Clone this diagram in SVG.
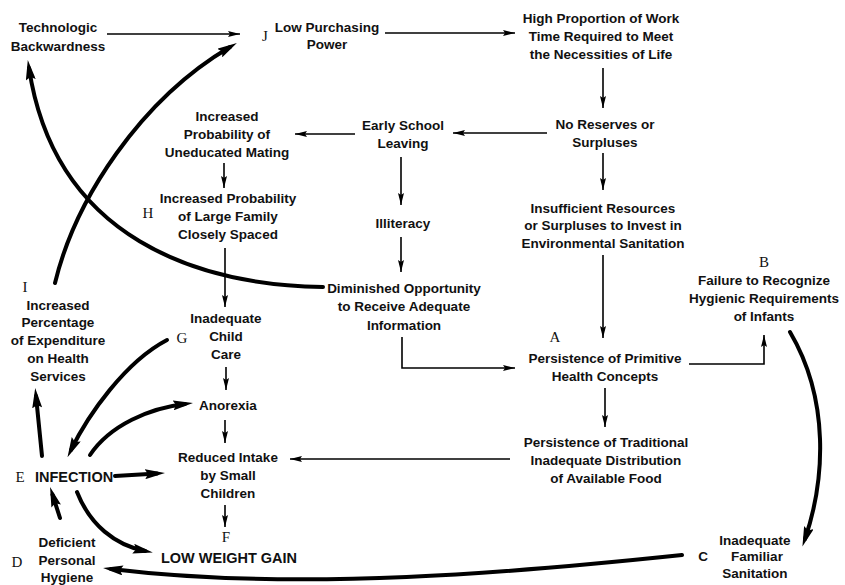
<svg xmlns="http://www.w3.org/2000/svg" width="845" height="585" viewBox="0 0 845 585">
<style>
.t{font-family:"Liberation Sans",Arial,sans-serif;font-weight:bold;font-size:13.5px;text-anchor:middle;fill:#111}
.big{font-size:14.5px}
.lbl{font-family:"Liberation Serif","Times New Roman",serif;font-size:15px;text-anchor:middle;fill:#111}
.thin{stroke:#000;stroke-width:1.6;fill:none;marker-end:url(#ah)}
.thick{stroke:#000;stroke-width:4;fill:none;stroke-linecap:round;marker-end:url(#ahb)}
</style>
<defs>
<marker id="ah" markerUnits="userSpaceOnUse" viewBox="0 0 12 6" markerWidth="12" markerHeight="6" refX="12" refY="3" orient="auto"><path d="M0,0 L12,3 L0,6 L2,3 z" fill="#000"/></marker>
<marker id="ahb" markerUnits="userSpaceOnUse" viewBox="0 0 20 10" markerWidth="20" markerHeight="10" refX="12" refY="5" orient="auto"><path d="M0,0 L20,5 L0,10 L3,5 z" fill="#000"/></marker>
</defs>
<rect width="845" height="585" fill="#fff"/>

<g id="connectors">
<path class="thin" d="M107,34 H240"/>
<path class="thin" d="M385,33 H515"/>
<path class="thin" d="M603,68 V108"/>
<path class="thin" d="M547,133 H453"/>
<path class="thin" d="M355,134 H295"/>
<path class="thin" d="M224,163 V188"/>
<path class="thin" d="M401,157 V205"/>
<path class="thin" d="M401,237 V272"/>
<path class="thin" d="M603,153 V190"/>
<path class="thin" d="M603,255 V338"/>
<path class="thin" d="M402,337 V368 H515"/>
<path class="thin" d="M689,364 H764 V335"/>
<path class="thin" d="M605,388 V427"/>
<path class="thin" d="M510,459 H290"/>
<path class="thin" d="M225,248 V307"/>
<path class="thin" d="M226,367 V390"/>
<path class="thin" d="M225,420 V443"/>
<path class="thin" d="M225,505 V527"/>

<path class="thick" d="M55,283 C75,200 140,100 230,47"/>
<path class="thick" d="M323,287 C200,285 55,240 29,68"/>
<path class="thick" d="M790,332 C830,400 825,480 805,539"/>
<path class="thick" d="M682,555 C520,572 300,592 111,569"/>
<path class="thick" d="M42,456 L36,396"/>
<path class="thick" d="M167,340 C125,362 88,415 71,450"/>
<path class="thick" d="M90,455 C110,425 150,408 185,404"/>
<path class="thick" d="M115,476 L157,473.5"/>
<path class="thick" d="M60,518 L52.5,494.6"/>
<path class="thick" d="M77,492 C90,525 115,545 145,551"/>
</g>

<g id="technologic"><text class="t" x="58" y="32">Technologic</text><text class="t" x="58" y="51">Backwardness</text></g>
<g id="J"><text class="lbl" x="265" y="41">J</text><text class="t" x="327" y="32">Low Purchasing</text><text class="t" x="327" y="49">Power</text></g>
<g id="highproportion"><text class="t" x="601" y="23">High Proportion of Work</text><text class="t" x="601" y="41">Time Required to Meet</text><text class="t" x="601" y="59">the Necessities of Life</text></g>
<g id="noreserves"><text class="t" x="605" y="129">No Reserves or</text><text class="t" x="605" y="147">Surpluses</text></g>
<g id="earlyschool"><text class="t" x="403" y="130">Early School</text><text class="t" x="403" y="148">Leaving</text></g>
<g id="uneducated"><text class="t" x="227" y="121">Increased</text><text class="t" x="227" y="139">Probability of</text><text class="t" x="227" y="157">Uneducated Mating</text></g>
<g id="H"><text class="lbl" x="148" y="218">H</text><text class="t" x="228" y="203">Increased Probability</text><text class="t" x="228" y="221">of Large Family</text><text class="t" x="228" y="239">Closely Spaced</text></g>
<g id="illiteracy"><text class="t" x="403" y="228">Illiteracy</text></g>
<g id="diminished"><text class="t" x="404" y="293">Diminished Opportunity</text><text class="t" x="404" y="311">to Receive Adequate</text><text class="t" x="404" y="330">Information</text></g>
<g id="insufficient"><text class="t" x="603" y="213">Insufficient Resources</text><text class="t" x="603" y="230">or Surpluses to Invest in</text><text class="t" x="603" y="248">Environmental Sanitation</text></g>
<g id="A"><text class="lbl" x="555" y="342">A</text><text class="t" x="605" y="363">Persistence of Primitive</text><text class="t" x="605" y="381">Health Concepts</text></g>
<g id="B"><text class="lbl" x="764" y="267">B</text><text class="t" x="764" y="285">Failure to Recognize</text><text class="t" x="764" y="303">Hygienic Requirements</text><text class="t" x="764" y="321">of Infants</text></g>
<g id="traditional"><text class="t" x="606" y="447">Persistence of Traditional</text><text class="t" x="606" y="465">Inadequate Distribution</text><text class="t" x="606" y="483">of Available Food</text></g>
<g id="C"><text class="t" x="703" y="561">C</text><text class="t" x="755" y="545">Inadequate</text><text class="t" x="757" y="561">Familiar</text><text class="t" x="755" y="578">Sanitation</text></g>
<g id="I"><text class="lbl" x="25" y="292">I</text><text class="t" x="58" y="310">Increased</text><text class="t" x="58" y="327">Percentage</text><text class="t" x="58" y="345">of Expenditure</text><text class="t" x="58" y="363">on Health</text><text class="t" x="58" y="381">Services</text></g>
<g id="G"><text class="lbl" x="182" y="343">G</text><text class="t" x="226" y="323">Inadequate</text><text class="t" x="226" y="341">Child</text><text class="t" x="226" y="359">Care</text></g>
<g id="anorexia"><text class="t" x="228" y="410">Anorexia</text></g>
<g id="reduced"><text class="t" x="228" y="462">Reduced Intake</text><text class="t" x="228" y="480">by Small</text><text class="t" x="228" y="498">Children</text></g>
<g id="F"><text class="lbl" x="226" y="542">F</text><text class="t big" x="229" y="563">LOW WEIGHT GAIN</text></g>
<g id="E"><text class="lbl" x="20" y="482">E</text><text class="t big" x="35" y="482" style="text-anchor:start">INFECTION</text></g>
<g id="D"><text class="lbl" x="17" y="567">D</text><text class="t" x="67" y="547">Deficient</text><text class="t" x="67" y="565">Personal</text><text class="t" x="67" y="582">Hygiene</text></g>
</svg>
